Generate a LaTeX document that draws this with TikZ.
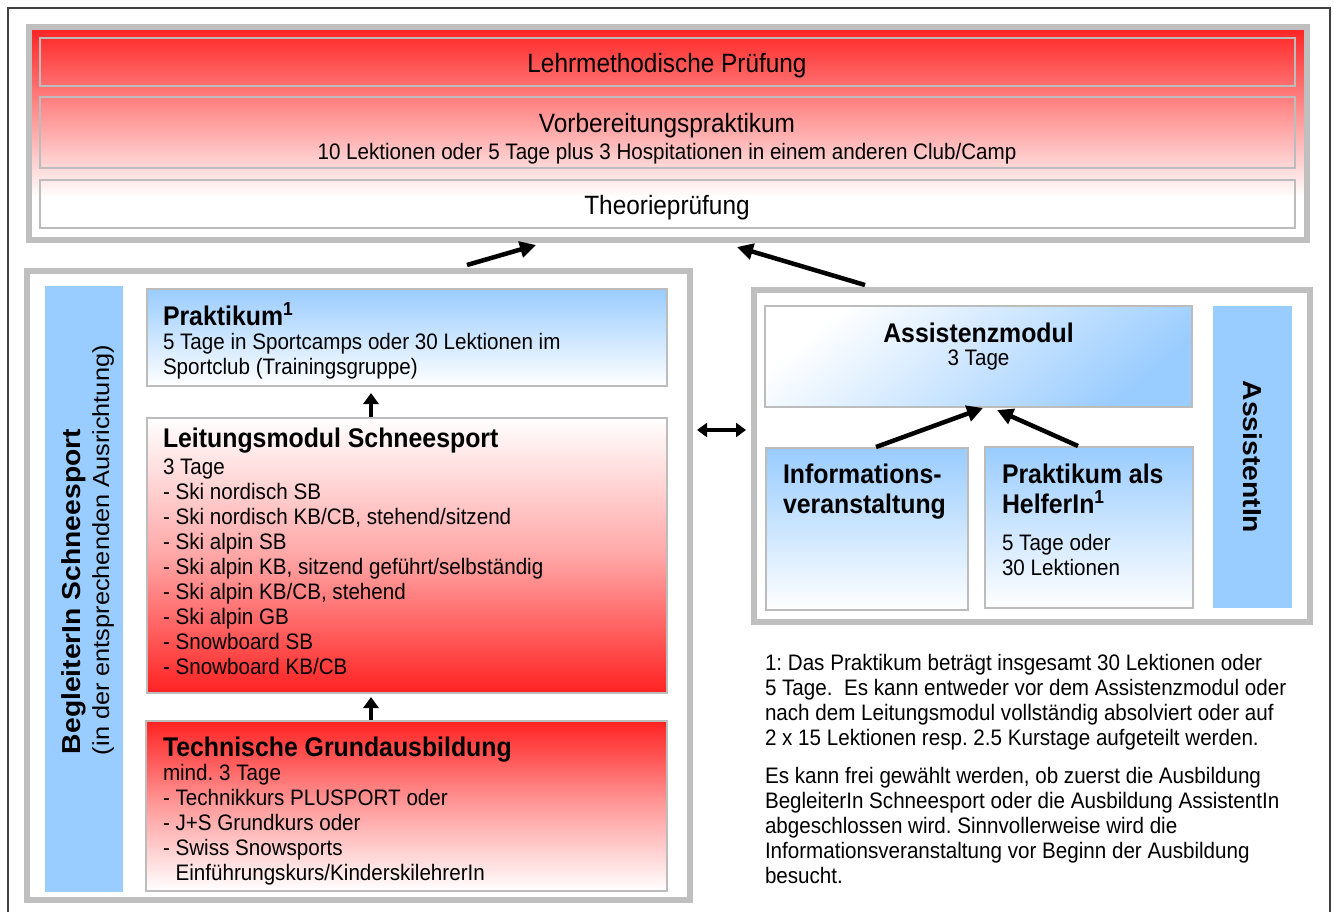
\documentclass[tikz,border=0pt]{standalone}
\usepackage{fontspec}
\setmainfont{Liberation Sans}[FakeStretch=0.92]
\newfontfamily\rotfont{Liberation Sans}[FakeStretch=1.087]
\usetikzlibrary{arrows.meta}
\frenchspacing
\definecolor{myred}{HTML}{FF2222}
\definecolor{myblue}{HTML}{99CCFF}
\definecolor{framegray}{HTML}{BFBFBF}
\definecolor{boxgray}{HTML}{BCBCBC}
\definecolor{linegray}{HTML}{404040}
\newcommand\myBody{\fontsize{22.4}{25}\selectfont}
\newcommand\myHead{\fontsize{27}{30}\selectfont\bfseries}
\newcommand\myRow{\fontsize{26.5}{30}\selectfont}
\pgfdeclareverticalshading{topgrad}{100bp}{color(0bp)=(white); color(35bp)=(white); color(75bp)=(myred); color(100bp)=(myred)}
\begin{document}
\begin{tikzpicture}[x=1pt,y=-1pt,
  grpframe/.style={draw=framegray, line width=6pt, inner sep=0pt, outer sep=0pt, anchor=north west},
  rowbox/.style={draw=boxgray, line width=2.5pt, inner sep=0pt, outer sep=0pt, anchor=north west},
  bluebar/.style={fill=myblue, inner sep=0pt, outer sep=0pt, anchor=north west},
  txt/.style={inner sep=0pt, outer sep=0pt},
  bodytxt/.style={txt, font=\myBody, align=left, anchor=north west},
  headtxt/.style={txt, font=\myHead, anchor=base west},
  bigarrow/.style={line width=4.5pt, -{Triangle[length=16pt,width=16pt]}},
  uparrow/.style={line width=4.5pt, -{Triangle[length=11pt,width=15pt]}},
  dblarrow/.style={line width=3.5pt, {Triangle[length=10pt,width=14pt]}-{Triangle[length=10pt,width=14pt]}}
]
\useasboundingbox (0,0) rectangle (1334,911);
\fill[white] (0,0) rectangle (1334,911);
% outer thin frame
\draw[linegray, line width=1.2pt] (8,8) rectangle (1330,920);

% ---------- top group ----------
\node[grpframe, shading=topgrad, minimum width=1278pt, minimum height=213.5pt] (topgrp) at (29,26.5) {};
\node[rowbox, minimum width=1255pt, minimum height=48pt] (row1) at (40,38) {};
\node[rowbox, minimum width=1255pt, minimum height=71pt] (row2) at (40,97) {};
\node[rowbox, minimum width=1255pt, minimum height=48pt] (row3) at (40,180) {};
\node[txt, font=\myRow, anchor=base] (t1) at (667,72) {Lehrmethodische Prüfung};
\node[txt, font=\myRow, anchor=base] (t2) at (667,132) {Vorbereitungspraktikum};
\node[txt, font=\myBody, anchor=base] (t2b) at (667,159) {10 Lektionen oder 5 Tage plus 3 Hospitationen in einem anderen Club/Camp};
\node[txt, font=\myRow, anchor=base] (t3) at (667,214) {Theorieprüfung};

% ---------- left group ----------
\node[grpframe, fill=white, minimum width=663pt, minimum height=629.5pt] (leftgrp) at (27,270.5) {};
\node[bluebar, minimum width=78pt, minimum height=606pt] (bbar) at (45,286) {};
\node[txt, rotate=90, anchor=base west, font={\rotfont\fontsize{26}{30}\selectfont\bfseries}] (bt1) at (80,754) {BegleiterIn Schneesport};
\node[txt, rotate=90, anchor=base west, font={\rotfont\fontsize{23.3}{28}\selectfont}] (bt2) at (109,755) {(in der entsprechenden Ausrichtung)};

\node[rowbox, top color=myblue, bottom color=white, minimum width=520pt, minimum height=97pt] (prak) at (147,289) {};
\node[headtxt] (prakh) at (163,325) {Praktikum\textsuperscript{1}};
\node[bodytxt] (prakb) at (163,329) {\rule{0pt}{20pt}5 Tage in Sportcamps oder 30 Lektionen im\\Sportclub (Trainingsgruppe)};

\node[rowbox, top color=white, bottom color=myred, middle color=myred!40, minimum width=520pt, minimum height=275pt] (leit) at (147,418) {};
\node[headtxt] (leith) at (163,447) {Leitungsmodul Schneesport};
\node[bodytxt] (leitb) at (163,454) {\rule{0pt}{20pt}3 Tage\\- Ski nordisch SB\\- Ski nordisch KB/CB, stehend/sitzend\\- Ski alpin SB\\- Ski alpin KB, sitzend geführt/selbständig\\- Ski alpin KB/CB, stehend\\- Ski alpin GB\\- Snowboard SB\\- Snowboard KB/CB};

\node[rowbox, top color=myred, bottom color=white, middle color=myred!45, minimum width=521pt, minimum height=170pt] (tech) at (146,721) {};
\node[headtxt] (techh) at (163,756) {Technische Grundausbildung};
\node[bodytxt] (techb) at (163,760) {\rule{0pt}{20pt}mind. 3 Tage\\- Technikkurs PLUSPORT oder\\- J+S Grundkurs oder\\- Swiss Snowsports\\\phantom{- }Einführungskurs/KinderskilehrerIn};

\coordinate (u1s) at (371,417);
\coordinate (u1e) at (371,393);
\coordinate (u2s) at (371,720);
\coordinate (u2e) at (371,697);
\draw[uparrow] (u1s) -- (u1e);
\draw[uparrow] (u2s) -- (u2e);

% ---------- right group ----------
\node[grpframe, fill=white, minimum width=556pt, minimum height=332pt] (rightgrp) at (754,290) {};
\node[rowbox, top color=white, bottom color=myblue, shading angle=40, minimum width=427pt, minimum height=101pt] (asmod) at (765,306) {};
\node[txt, font=\myHead, anchor=base] (asmodh) at (978.5,342) {Assistenzmodul};
\node[txt, font=\myBody, anchor=base] (asmodb) at (978.5,365) {3 Tage};
\node[rowbox, top color=myblue, bottom color=white, minimum width=202pt, minimum height=162pt] (info) at (766,448) {};
\node[txt, font=\myHead, align=left, anchor=north west] (infoh) at (783,461) {\rule{0pt}{22pt}Informations-\\veranstaltung};
\node[rowbox, top color=myblue, bottom color=white, minimum width=208pt, minimum height=161pt] (helf) at (985,447) {};
\node[txt, font=\myHead, align=left, anchor=north west] (helfh) at (1002,461) {\rule{0pt}{22pt}Praktikum als\\HelferIn\textsuperscript{1}};
\node[bodytxt] (helfb) at (1002,530) {\rule{0pt}{20pt}5 Tage oder\\30 Lektionen};
\node[bluebar, minimum width=79pt, minimum height=302pt] (abar) at (1213,306) {};
\node[txt, rotate=-90, anchor=center, font={\rotfont\fontsize{26}{30}\selectfont\bfseries}] (at1) at (1252.5,457) {AssistentIn};

\coordinate (r1s) at (876,447);
\coordinate (r1e) at (983,408);
\coordinate (r2s) at (1078,446);
\coordinate (r2e) at (997,410);
\draw[bigarrow] (r1s) -- (r1e);
\draw[bigarrow] (r2s) -- (r2e);

\coordinate (d1) at (697,430);
\coordinate (d2) at (746,430);
\draw[dblarrow] (d1) -- (d2);

% ---------- arrows to top group ----------
\coordinate (a1s) at (467,265);
\coordinate (a1e) at (536,245);
\coordinate (a2s) at (865,285);
\coordinate (a2e) at (737,247);
\draw[bigarrow] (a1s) -- (a1e);
\draw[bigarrow] (a2s) -- (a2e);

% ---------- footnote ----------
\node[bodytxt] (foot) at (765,650) {\rule{0pt}{20pt}1: Das Praktikum beträgt insgesamt 30 Lektionen oder\\5 Tage.\ \ Es kann entweder vor dem Assistenzmodul oder\\nach dem Leitungsmodul vollständig absolviert oder auf\\2 x 15 Lektionen resp. 2.5 Kurstage aufgeteilt werden.\\[13pt]Es kann frei gewählt werden, ob zuerst die Ausbildung\\BegleiterIn Schneesport oder die Ausbildung AssistentIn\\abgeschlossen wird. Sinnvollerweise wird die\\Informationsveranstaltung vor Beginn der Ausbildung\\besucht.};
\end{tikzpicture}
\end{document}
